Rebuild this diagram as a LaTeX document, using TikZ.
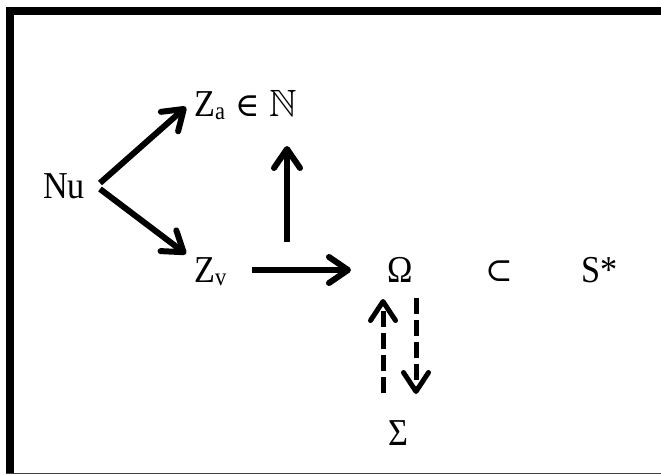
\RequirePackage{fix-cm}
\documentclass[tikz,border=0pt]{standalone}
\usepackage{amssymb}
\usepackage{fontspec}
\setmainfont[FakeStretch=0.9]{Liberation Serif}
\newfontfamily\symfont{DejaVu Serif}
\usetikzlibrary{arrows.meta}
\newcommand{\mysub}[1]{\raisebox{-3pt}{\fontsize{25}{28}\selectfont #1}}
\begin{document}
\begin{tikzpicture}[x=1pt,y=-1pt,
  lbl/.style={inner sep=0pt, anchor=base west, font=\fontsize{38}{42}\selectfont},
  arr/.style={line width=6pt, -{Straight Barb[length=19pt,width=26pt,line cap=round,line join=round]}},
  darr/.style={line width=5pt, dash pattern=on 16pt off 6pt, -{Straight Barb[length=19pt,width=25pt,line cap=round,line join=round]}}]
\useasboundingbox (0,0) rectangle (661,474);
% frame
\fill (6,7.3) rectangle (661,15.3);
\fill (6,7.3) rectangle (14.3,474);
\draw[line width=1.2pt, black!75] (6,473.4) -- (661,473.4);
% nodes
\node[lbl] (nu) at (43,198) {Nu};
\node[lbl] (za) at (194,116) {Z\mysub{a}\hspace{10pt}{\fontsize{33}{36}\symfont ∈}\hspace{10pt}$\mathbb{N}$};
\node[lbl] (zv) at (194,282) {Z\mysub{v}};
\node[lbl] (om) at (387,282) {Ω};
\node[lbl] (sub) at (485,281) {\fontsize{33}{36}\symfont ⊂};
\node[lbl] (s) at (581,282) {S*};
\node[lbl] (sig) at (388,445) {Σ};
% connector end points
\coordinate (nuA) at (100,183);
\coordinate (nuB) at (100,189);
\coordinate (zaIn) at (186,107);
\coordinate (zvIn) at (186,254);
\coordinate (hS) at (252,270);
\coordinate (hE) at (351,270);
\coordinate (vS) at (287,242);
\coordinate (vE) at (287,146);
\coordinate (uS) at (383,393);
\coordinate (uE) at (383,299);
\coordinate (dS) at (416,298);
\coordinate (dE) at (416,394);
% connectors
\draw[arr] (nuA) -- (zaIn);
\draw[arr] (nuB) -- (zvIn);
\draw[arr] (hS) -- (hE);
\draw[arr] (vS) -- (vE);
\draw[darr] (uS) -- (uE);
\draw[darr] (dS) -- (dE);
\end{tikzpicture}
\end{document}
